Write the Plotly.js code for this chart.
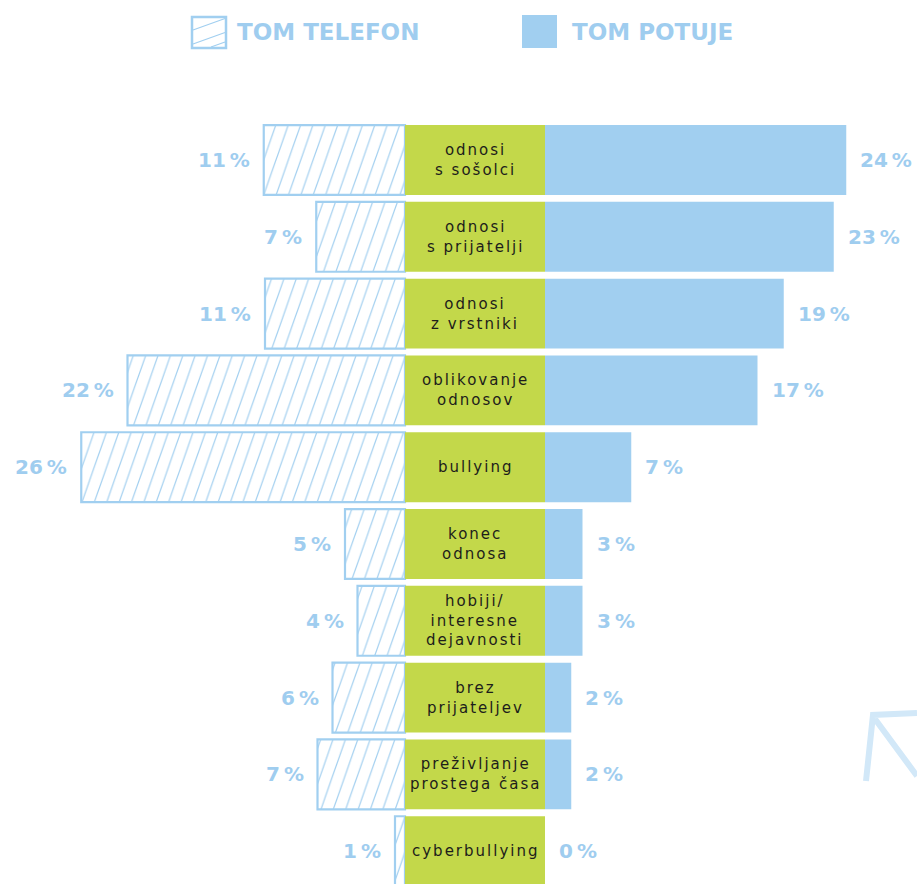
<!DOCTYPE html>
<html>
<head>
<meta charset="utf-8">
<script src="https://cdn.plot.ly/plotly-3.0.1.min.js"></script>
<style>
html,body{margin:0;padding:0;background:#ffffff;}
#chart{width:917px;height:884px;}
</style>
</head>
<body>
<div id="chart"></div>
<script>
// ---- data ----
const categories = [
  "odnosi<br>s sošolci",
  "odnosi<br>s prijatelji",
  "odnosi<br>z vrstniki",
  "oblikovanje<br>odnosov",
  "bullying",
  "konec<br>odnosa",
  "hobiji/<br>interesne<br>dejavnosti",
  "brez<br>prijateljev",
  "preživljanje<br>prostega časa",
  "cyberbullying"
];
const telefonValues = [11.3, 7.1, 11.2, 22.2, 25.9, 4.8, 3.8, 5.8, 7.0, 0.8];
const potujeValues  = [24.1, 23.1, 19.1, 17.0, 6.9, 3.0, 3.0, 2.1, 2.1, 0];
const seriesNames = ["TOM TELEFON", "TOM POTUJE"];

// ---- styles ----
const BLUE = '#a1cff0';
const LABEL = '#9fcdef';
const GREEN = '#c3d84a';
const DARK = '#1d1d1b';
const PALE = '#d2e8f8';
const GAP = 11.2;            // width of the centre label box, in % units
const W = 917, H = 884, T = 100;

const rows = categories.map((_, i) => i);
const pct = v => Math.round(v) + '\u2009%';
const px = x => x / W;               // page px -> paper x
const py = y => (H - y) / (H - T);   // page px -> paper y

const traces = [
  {
    type: 'bar', orientation: 'h', name: seriesNames[0],
    y: rows, x: telefonValues.map(v => -v), base: -GAP / 2, width: 0.91,
    marker: {
      color: 'white',
      line: {color: BLUE, width: 2.2},
      pattern: {shape: '/', fgcolor: BLUE, bgcolor: 'white', size: 25, solidity: 0.1, fillmode: 'replace'}
    },
    hoverinfo: 'skip'
  },
  {
    type: 'bar', orientation: 'h', name: 'labels',
    y: rows, x: rows.map(() => GAP), base: -GAP / 2, width: 0.91,
    marker: {color: GREEN, line: {width: 0}},
    hoverinfo: 'skip'
  },
  {
    type: 'bar', orientation: 'h', name: seriesNames[1],
    y: rows, x: potujeValues, base: GAP / 2, width: 0.91,
    marker: {color: BLUE, line: {width: 0}},
    hoverinfo: 'skip'
  }
];

const pctFont = {family: 'DejaVu Sans', size: 20, color: LABEL, weight: 'bold'};

const annotations = [];
categories.forEach((c, i) => {
  annotations.push({
    x: 0, y: i, xref: 'x', yref: 'y', showarrow: false,
    text: c.split('<br>').map(s => '<span style="letter-spacing:2px">' + s + '</span>').join('<br>'),
    font: {family: 'DejaVu Sans', size: 15, color: DARK}
  });
});
telefonValues.forEach((v, i) => {
  annotations.push({
    x: -GAP / 2 - v, y: i, xref: 'x', yref: 'y', showarrow: false,
    xanchor: 'right', xshift: -12, text: pct(v), font: pctFont
  });
});
potujeValues.forEach((v, i) => {
  annotations.push({
    x: GAP / 2 + v, y: i, xref: 'x', yref: 'y', showarrow: false,
    xanchor: 'left', xshift: 12, text: pct(v), font: pctFont
  });
});
// legend texts
const legFont = {family: 'DejaVu Sans', size: 23, color: LABEL, weight: 'bold'};
annotations.push({x: px(235), y: py(32), xref: 'paper', yref: 'paper', xanchor: 'left', yanchor: 'middle',
  showarrow: false, text: seriesNames[0], font: legFont});
annotations.push({x: px(570), y: py(32), xref: 'paper', yref: 'paper', xanchor: 'left', yanchor: 'middle',
  showarrow: false, text: seriesNames[1], font: legFont});

const line = (x0, y0, x1, y1) => ({type: 'line', xref: 'paper', yref: 'paper',
  x0: px(x0), y0: py(y0), x1: px(x1), y1: py(y1), line: {color: BLUE, width: 1.2}});
const shapes = [
  {type: 'rect', xref: 'paper', yref: 'paper', x0: px(192), x1: px(226), y0: py(17), y1: py(48),
   fillcolor: 'white', line: {color: BLUE, width: 2.5}},
  line(193, 30, 225, 18.5),
  line(193, 44, 225, 32.5),
  line(211, 47, 225, 42),
  {type: 'rect', xref: 'paper', yref: 'paper', x0: px(522), x1: px(557), y0: py(15), y1: py(48),
   fillcolor: BLUE, line: {width: 0}},
  {type: 'path', xref: 'paper', yref: 'paper',
   path: 'M' + px(917) + ',' + py(713) + ' L' + px(873) + ',' + py(715) + ' L' + px(866) + ',' + py(781) +
         ' M' + px(875) + ',' + py(719) + ' L' + px(917) + ',' + py(776),
   line: {color: PALE, width: 6}}
];

const layout = {
  width: W, height: H,
  margin: {l: 0, r: 0, t: T, b: 0, pad: 0},
  paper_bgcolor: 'white', plot_bgcolor: 'white',
  barmode: 'overlay', showlegend: false, hovermode: false,
  xaxis: {range: [-38, 35.36], visible: false, fixedrange: true},
  yaxis: {range: [9.427, -0.781], visible: false, fixedrange: true},
  annotations: annotations,
  shapes: shapes
};

Plotly.newPlot('chart', traces, layout, {displayModeBar: false, staticPlot: true}).then(gd => {
  gd.querySelectorAll('pattern').forEach(p => p.setAttribute('patternTransform', 'scale(0.35,1)'));
});
</script>
</body>
</html>
